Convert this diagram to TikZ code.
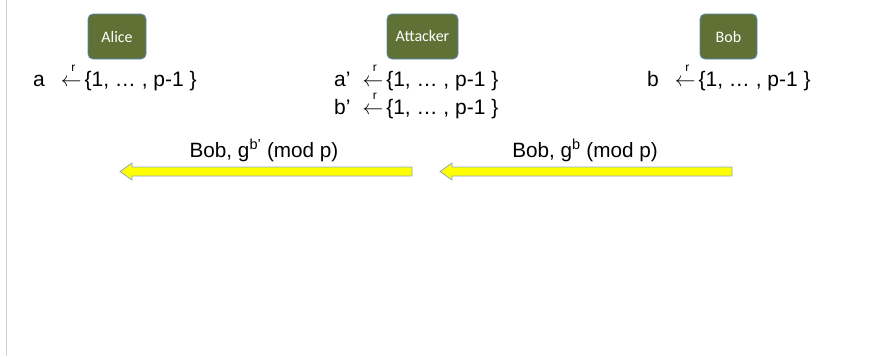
\documentclass[tikz,border=0pt]{standalone}
\usepackage{fontspec}
\usepackage{amsmath}
\setmainfont{Liberation Sans}
\newfontfamily\boxfont{Carlito}
\definecolor{boxolive}{HTML}{5F7134}
\definecolor{boxedge}{HTML}{5B86B8}
\definecolor{arrowedge}{HTML}{8FA8C6}
\definecolor{arrowfill}{HTML}{FFFF00}
\definecolor{sideline}{HTML}{D0D0D0}
\newcommand{\randgets}{\hspace{1pt}$\overset{\raisebox{3pt}{\fontsize{12}{12}\selectfont\hspace{4pt}r}}{\leftarrow}$\hspace{3pt}}
\newcommand{\zpset}{\{1, … , p-1 \}}
\begin{document}
\begin{tikzpicture}[x=1pt,y=-1pt,
  party/.style={draw=boxedge, line width=0.8pt, fill=boxolive, rounded corners=5pt,
    minimum width=58pt, minimum height=45pt, text=white, inner sep=0pt,
    font=\boxfont\fontsize{16}{16}\selectfont},
  stmt/.style={anchor=base west, inner sep=0pt, font=\fontsize{21}{25}\selectfont},
  msg/.style={anchor=base, inner sep=0pt, font=\fontsize{20.7}{25}\selectfont},
  blockarrow/.style={draw=arrowedge, line width=0.8pt, fill=arrowfill, line join=miter}]
\useasboundingbox (0,0) rectangle (885,356);
\draw[sideline, line width=1pt] (6.5,0) -- (6.5,356);

\node[party] (alice) at (117,36.5) {Alice};
\node[party, minimum width=71pt] (attacker) at (422.5,36.5) {Attacker};
\node[party, minimum width=57pt] (bob) at (728.5,36.5) {Bob};

\node[stmt] (sa) at (33,86) {a\hspace{15pt}\randgets\zpset};
\node[stmt] (saa) at (334,86) {a’\hspace{11pt}\randgets\zpset};
\node[stmt] (sab) at (334,114) {b’\hspace{11pt}\randgets\zpset};
\node[stmt] (sb) at (647,86) {b\hspace{15pt}\randgets\zpset};

\node[msg] (m1) at (264,157) {Bob, g\textsuperscript{b’} (mod p)};
\node[msg] (m2) at (585,157) {Bob, g\textsuperscript{b} (mod p)};

\draw[blockarrow] (120,171.5) -- (132,163) -- (132,167) -- (412,167) -- (412,176)
  -- (132,176) -- (132,180) -- cycle;
\draw[blockarrow] (440,171.5) -- (452,163) -- (452,167) -- (732,167) -- (732,176)
  -- (452,176) -- (452,180) -- cycle;
\end{tikzpicture}
\end{document}
